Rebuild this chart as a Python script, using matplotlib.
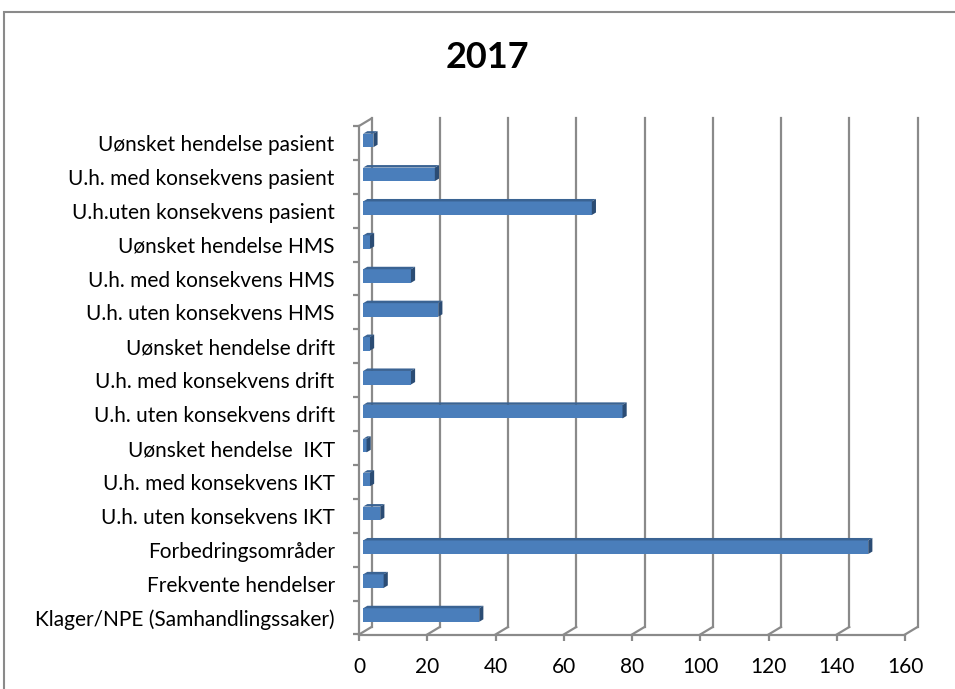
import numpy as np
import matplotlib
matplotlib.use('Agg')
import matplotlib.pyplot as plt
from matplotlib.patches import Polygon, Rectangle

TITLE = '2017'

CATEGORIES = [
    'Uønsket hendelse pasient',
    'U.h. med konsekvens pasient',
    'U.h.uten konsekvens pasient',
    'Uønsket hendelse HMS',
    'U.h. med konsekvens HMS',
    'U.h. uten konsekvens HMS',
    'Uønsket hendelse drift',
    'U.h. med konsekvens drift',
    'U.h. uten konsekvens drift',
    'Uønsket hendelse  IKT',
    'U.h. med konsekvens IKT',
    'U.h. uten konsekvens IKT',
    'Forbedringsområder',
    'Frekvente hendelser',
    'Klager/NPE (Samhandlingssaker)',
]
VALUES = [3, 21, 67, 2, 14, 22, 2, 14, 76, 1, 2, 5, 148, 6, 34]
X_TICKS = [0, 20, 40, 60, 80, 100, 120, 140, 160]

# layout (pixels)
W, H = 955, 689
FRONT_LEFT, FRONT_RIGHT = 359, 905
FRONT_TOP, FRONT_BOTTOM = 126, 634.5
DEPTH_X_PX = 12.5
DEPTH_Y_PX = 7.5
BAR_H = 0.4

GRID = '#8a8a8a'
FRONT = '#4a7ebb'
TOP = '#3a6393'
SIDE = '#2b4c74'
FONT = ['Lato', 'DejaVu Sans']

plt.rcParams['font.family'] = FONT

fig = plt.figure(figsize=(W / 100, H / 100), dpi=100)
ax = fig.add_axes([FRONT_LEFT / W, 1 - FRONT_BOTTOM / H,
                   (FRONT_RIGHT - FRONT_LEFT) / W, (FRONT_BOTTOM - FRONT_TOP) / H])

n = len(CATEGORIES)
xmax = X_TICKS[-1]
ax.set_xlim(0, xmax)
ax.set_ylim(n - 0.5, -0.5)

# depth offsets in data units
dx = DEPTH_X_PX * xmax / (FRONT_RIGHT - FRONT_LEFT)
dy = DEPTH_Y_PX * n / (FRONT_BOTTOM - FRONT_TOP)
y_top, y_bot = -0.5, n - 0.5

# back wall gridlines and floor slants
for v in X_TICKS:
    ax.plot([v + dx, v + dx], [y_top - dy, y_bot - dy], color=GRID, lw=1.6,
            clip_on=False, zorder=1)
    ax.plot([v, v + dx], [y_bot, y_bot - dy], color=GRID, lw=1.6,
            clip_on=False, zorder=1)
# left wall top slant
ax.plot([0, dx], [y_top, y_top - dy], color=GRID, lw=1.6, clip_on=False, zorder=1)

# bars (middle third of the depth)
bx, by = dx / 3, -dy / 3
sx, sy = dx / 3, dy / 3
for i, v in enumerate(VALUES):
    t = i + by - BAR_H / 2
    b = i + by + BAR_H / 2
    ax.add_patch(Polygon([(bx, t), (bx + v, t), (bx + v, b), (bx, b)],
                         closed=True, fc=FRONT, ec='none', zorder=3))
    ax.add_patch(Polygon([(bx, t), (bx + v, t), (bx + v + sx, t - sy), (bx + sx, t - sy)],
                         closed=True, fc=TOP, ec='none', zorder=3))
    ax.add_patch(Polygon([(bx + v, t), (bx + v, b), (bx + v + sx, b - sy), (bx + v + sx, t - sy)],
                         closed=True, fc=SIDE, ec='none', zorder=3))

# axes styling
for side in ['top', 'right']:
    ax.spines[side].set_visible(False)
for side in ['left', 'bottom']:
    ax.spines[side].set_color(GRID)
    ax.spines[side].set_linewidth(1.6)
ax.patch.set_visible(False)

ax.set_xticks(X_TICKS)
ax.set_xticklabels([str(v) for v in X_TICKS], fontsize=15)
ax.tick_params(axis='x', length=4, width=1.6, color=GRID, pad=12)

ax.set_yticks(np.arange(n + 1) - 0.5)
ax.set_yticklabels([])
ax.tick_params(axis='y', which='major', length=4, width=1.6, color=GRID)
ax.set_yticks(np.arange(n), minor=True)
ax.set_yticklabels(CATEGORIES, minor=True, fontsize=15)
ax.tick_params(axis='y', which='minor', length=0, pad=17.5)

fig.text(487 / W, 1 - 57 / H, TITLE, ha='center', va='center',
         fontsize=26, fontweight='bold')

# chart frame (cut off at right and bottom)
fig.add_artist(Rectangle((4 / W, -0.2), 1.5, 1.2 - 12 / H, transform=fig.transFigure,
                         fill=False, ec='#8a8a8a', lw=1.5))

fig.savefig('out.png', dpi=100)
